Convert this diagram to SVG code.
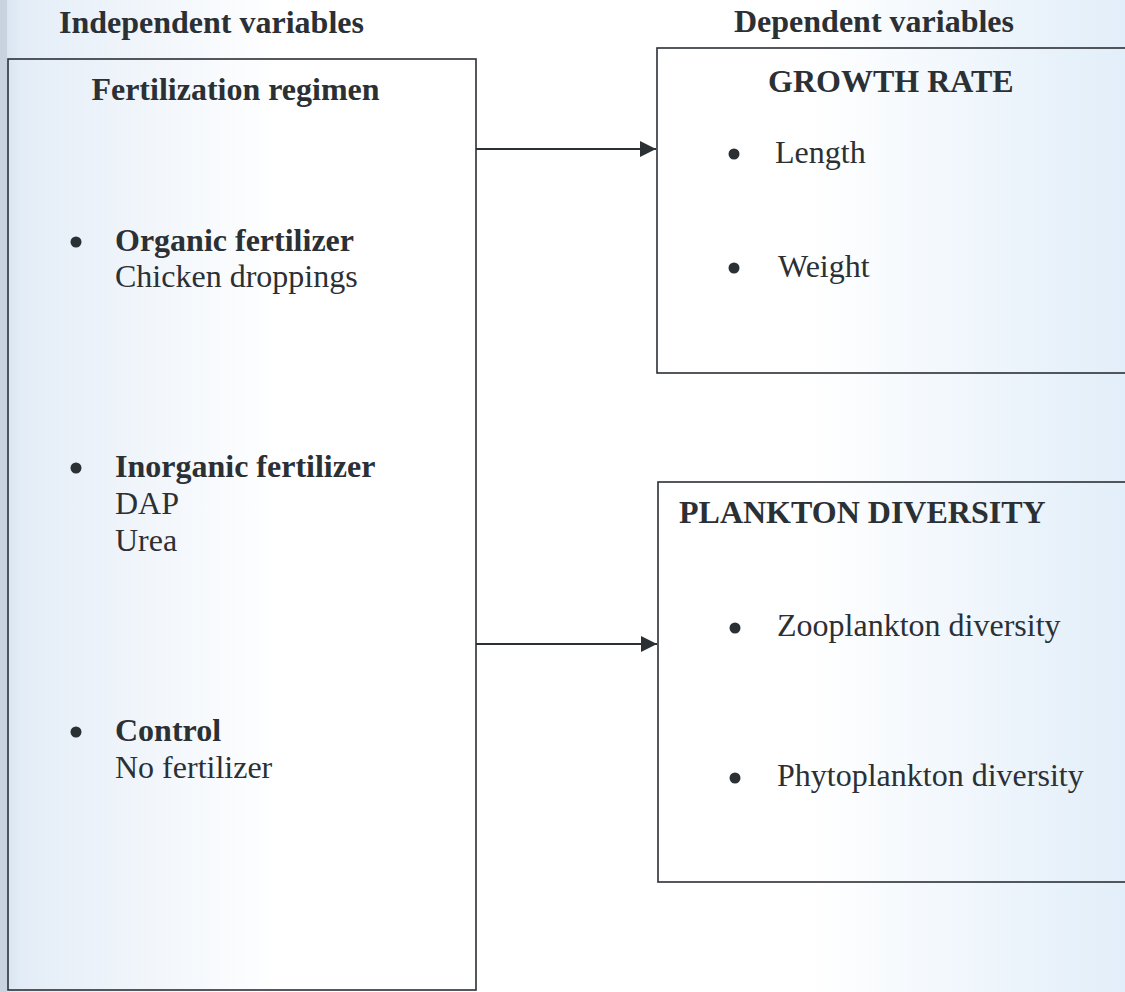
<svg xmlns="http://www.w3.org/2000/svg" width="1125" height="992" viewBox="0 0 1125 992">
<defs>
<linearGradient id="bg" x1="0" y1="0" x2="1" y2="0">
<stop offset="0" stop-color="#d6e2f0"/>
<stop offset="0.02" stop-color="#e4edf7"/>
<stop offset="0.25" stop-color="#ffffff"/>
<stop offset="0.72" stop-color="#ffffff"/>
<stop offset="1" stop-color="#e2eef9"/>
</linearGradient>
<marker id="arr" viewBox="0 0 16 16" refX="16" refY="8" markerWidth="16" markerHeight="16" markerUnits="userSpaceOnUse" orient="auto">
<path d="M0,0 L16,8 L0,16 Z" fill="#2b3035"/>
</marker>
</defs>
<style>
text{font-family:"Liberation Serif","Times New Roman",serif;font-size:32px;fill:#2b3035}
.b{font-weight:bold}
.box{fill:none;stroke:#2b3035;stroke-width:1.6}
.dot{fill:#2b3035}
.conn{stroke:#2b3035;stroke-width:1.8;fill:none}
</style>
<rect x="0" y="0" width="1125" height="992" fill="url(#bg)"/>
<rect x="0" y="0" width="7" height="992" fill="#c9d3df"/>
<g id="heading-independent"><text class="b" x="59" y="33">Independent variables</text></g>
<g id="heading-dependent"><text class="b" x="734" y="32">Dependent variables</text></g>
<g id="fertilization-regimen">
<rect class="box" x="8" y="59" width="468" height="931"/>
<text class="b" x="235.5" y="100" text-anchor="middle">Fertilization regimen</text>
<circle class="dot" cx="76" cy="242" r="5.5"/>
<text class="b" x="115" y="251">Organic fertilizer</text>
<text x="115" y="287">Chicken droppings</text>
<circle class="dot" cx="76" cy="468" r="5.5"/>
<text class="b" x="115" y="477">Inorganic fertilizer</text>
<text x="115" y="514">DAP</text>
<text x="115" y="551">Urea</text>
<circle class="dot" cx="76" cy="732" r="5.5"/>
<text class="b" x="115" y="741">Control</text>
<text x="115" y="778">No fertilizer</text>
</g>
<g id="growth-rate">
<rect class="box" x="657" y="48" width="480" height="325"/>
<text class="b" x="768" y="92">GROWTH RATE</text>
<circle class="dot" cx="734" cy="154" r="5.5"/>
<text x="775" y="163">Length</text>
<circle class="dot" cx="734" cy="268" r="5.5"/>
<text x="778" y="277">Weight</text>
</g>
<g id="plankton-diversity">
<rect class="box" x="658" y="482" width="480" height="400"/>
<text class="b" x="679" y="523">PLANKTON DIVERSITY</text>
<circle class="dot" cx="735" cy="628" r="5.5"/>
<text x="777" y="636">Zooplankton diversity</text>
<circle class="dot" cx="735" cy="778" r="5.5"/>
<text x="777" y="786">Phytoplankton diversity</text>
</g>
<g id="connectors">
<line class="conn" x1="476" y1="149" x2="656" y2="149" marker-end="url(#arr)"/>
<line class="conn" x1="476" y1="644" x2="657" y2="644" marker-end="url(#arr)"/>
</g>
</svg>
